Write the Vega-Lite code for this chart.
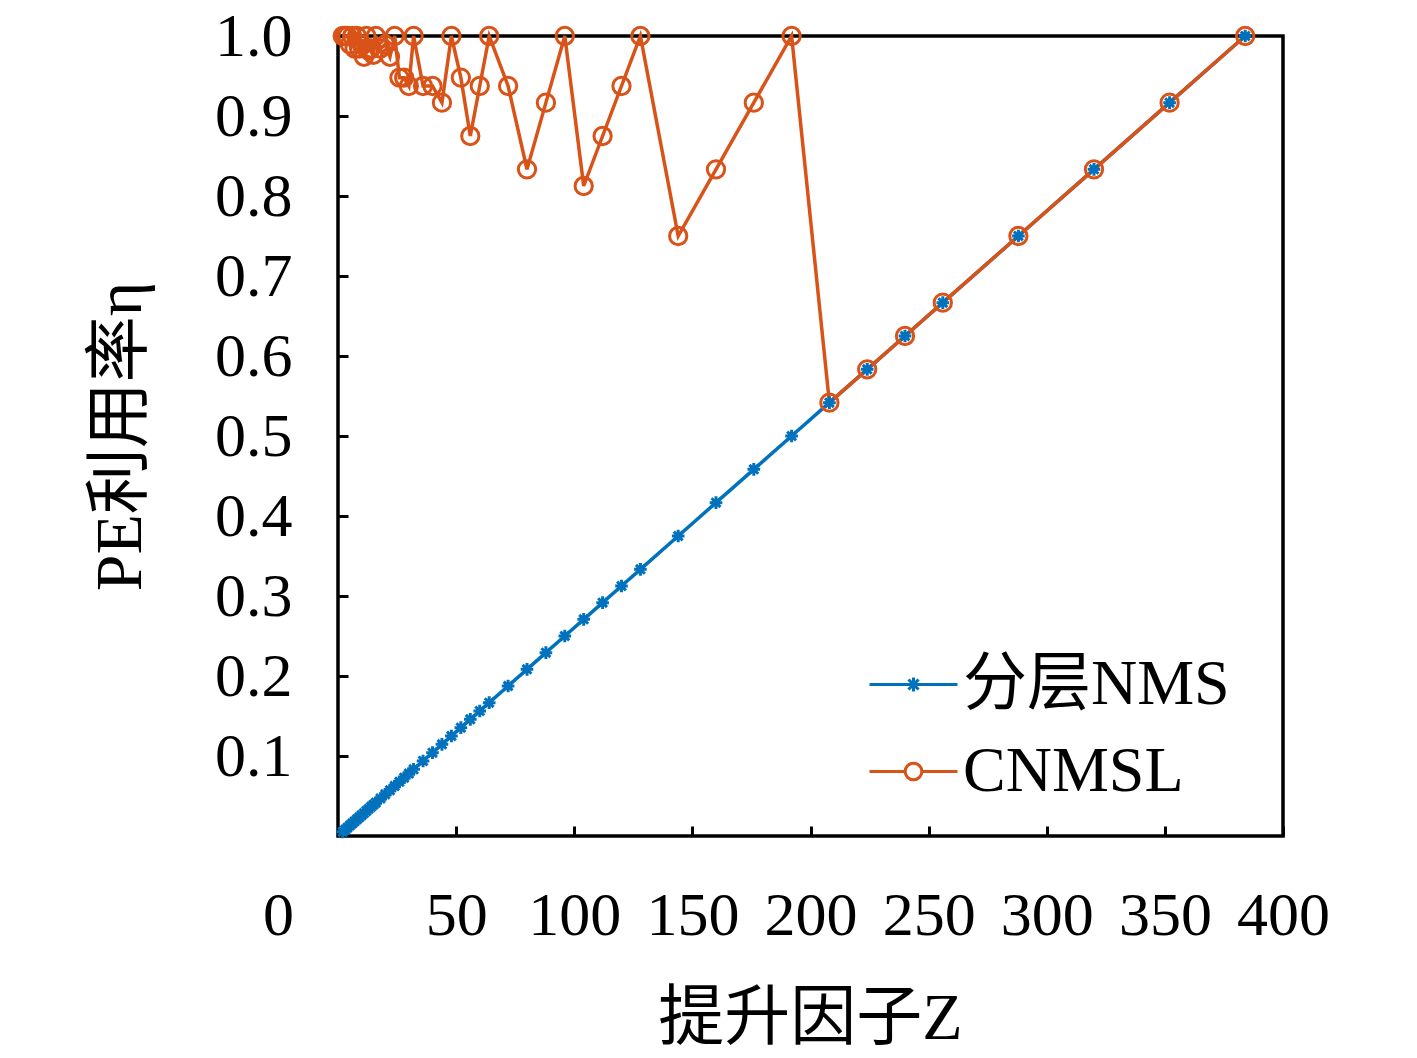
{
  "$schema": "https://vega.github.io/schema/vega-lite/v6.json",
  "autosize": "none",
  "width": 945,
  "height": 800,
  "padding": {"left": 338, "top": 36, "right": 134, "bottom": 222},
  "background": "white",
  "config": {
    "view": {"stroke": "black", "strokeWidth": 3.5},
    "axis": {
      "domain": false,
      "grid": false,
      "labelFont": "Liberation Serif",
      "labelFontSize": 62,
      "labelColor": "black",
      "titleFont": "Liberation Serif, Noto Sans CJK SC",
      "titleFontSize": 66,
      "titleFontWeight": "normal",
      "titleColor": "black",
      "tickColor": "black",
      "tickWidth": 3,
      "tickSize": -10
    },
    "legend": {
      "title": null,
      "orient": "none",
      "legendX": 530,
      "legendY": 603,
      "padding": 0,
      "rowPadding": 9,
      "symbolSize": 7744,
      "symbolStrokeWidth": 3,
      "symbolFillColor": "transparent",
      "labelOffset": 4,
      "labelFont": "Liberation Serif, Noto Sans CJK SC",
      "labelFontSize": 64,
      "labelColor": "black",
      "labelLimit": 400
    }
  },
  "data": {
    "values": [
      {"series": "分层NMS", "Z": 2, "eta": 0.0052},
      {"series": "分层NMS", "Z": 3, "eta": 0.0078},
      {"series": "分层NMS", "Z": 4, "eta": 0.0104},
      {"series": "分层NMS", "Z": 5, "eta": 0.0130},
      {"series": "分层NMS", "Z": 6, "eta": 0.0156},
      {"series": "分层NMS", "Z": 7, "eta": 0.0182},
      {"series": "分层NMS", "Z": 8, "eta": 0.0208},
      {"series": "分层NMS", "Z": 9, "eta": 0.0234},
      {"series": "分层NMS", "Z": 10, "eta": 0.0260},
      {"series": "分层NMS", "Z": 11, "eta": 0.0286},
      {"series": "分层NMS", "Z": 12, "eta": 0.0313},
      {"series": "分层NMS", "Z": 13, "eta": 0.0339},
      {"series": "分层NMS", "Z": 14, "eta": 0.0365},
      {"series": "分层NMS", "Z": 15, "eta": 0.0391},
      {"series": "分层NMS", "Z": 16, "eta": 0.0417},
      {"series": "分层NMS", "Z": 18, "eta": 0.0469},
      {"series": "分层NMS", "Z": 20, "eta": 0.0521},
      {"series": "分层NMS", "Z": 22, "eta": 0.0573},
      {"series": "分层NMS", "Z": 24, "eta": 0.0625},
      {"series": "分层NMS", "Z": 26, "eta": 0.0677},
      {"series": "分层NMS", "Z": 28, "eta": 0.0729},
      {"series": "分层NMS", "Z": 30, "eta": 0.0781},
      {"series": "分层NMS", "Z": 32, "eta": 0.0833},
      {"series": "分层NMS", "Z": 36, "eta": 0.0938},
      {"series": "分层NMS", "Z": 40, "eta": 0.1042},
      {"series": "分层NMS", "Z": 44, "eta": 0.1146},
      {"series": "分层NMS", "Z": 48, "eta": 0.125},
      {"series": "分层NMS", "Z": 52, "eta": 0.1354},
      {"series": "分层NMS", "Z": 56, "eta": 0.1458},
      {"series": "分层NMS", "Z": 60, "eta": 0.1563},
      {"series": "分层NMS", "Z": 64, "eta": 0.1667},
      {"series": "分层NMS", "Z": 72, "eta": 0.1875},
      {"series": "分层NMS", "Z": 80, "eta": 0.2083},
      {"series": "分层NMS", "Z": 88, "eta": 0.2292},
      {"series": "分层NMS", "Z": 96, "eta": 0.25},
      {"series": "分层NMS", "Z": 104, "eta": 0.2708},
      {"series": "分层NMS", "Z": 112, "eta": 0.2917},
      {"series": "分层NMS", "Z": 120, "eta": 0.3125},
      {"series": "分层NMS", "Z": 128, "eta": 0.3333},
      {"series": "分层NMS", "Z": 144, "eta": 0.375},
      {"series": "分层NMS", "Z": 160, "eta": 0.4167},
      {"series": "分层NMS", "Z": 176, "eta": 0.4583},
      {"series": "分层NMS", "Z": 192, "eta": 0.5},
      {"series": "分层NMS", "Z": 208, "eta": 0.5417},
      {"series": "分层NMS", "Z": 224, "eta": 0.5833},
      {"series": "分层NMS", "Z": 240, "eta": 0.625},
      {"series": "分层NMS", "Z": 256, "eta": 0.6667},
      {"series": "分层NMS", "Z": 288, "eta": 0.75},
      {"series": "分层NMS", "Z": 320, "eta": 0.8333},
      {"series": "分层NMS", "Z": 352, "eta": 0.9167},
      {"series": "分层NMS", "Z": 384, "eta": 1.0},
      {"series": "CNMSL", "Z": 2, "eta": 1.0},
      {"series": "CNMSL", "Z": 3, "eta": 1.0},
      {"series": "CNMSL", "Z": 4, "eta": 1.0},
      {"series": "CNMSL", "Z": 5, "eta": 0.9896},
      {"series": "CNMSL", "Z": 6, "eta": 1.0},
      {"series": "CNMSL", "Z": 7, "eta": 0.9844},
      {"series": "CNMSL", "Z": 8, "eta": 1.0},
      {"series": "CNMSL", "Z": 9, "eta": 0.9844},
      {"series": "CNMSL", "Z": 10, "eta": 0.9896},
      {"series": "CNMSL", "Z": 11, "eta": 0.974},
      {"series": "CNMSL", "Z": 12, "eta": 1.0},
      {"series": "CNMSL", "Z": 13, "eta": 0.9818},
      {"series": "CNMSL", "Z": 14, "eta": 0.9844},
      {"series": "CNMSL", "Z": 15, "eta": 0.9766},
      {"series": "CNMSL", "Z": 16, "eta": 1.0},
      {"series": "CNMSL", "Z": 18, "eta": 0.9844},
      {"series": "CNMSL", "Z": 20, "eta": 0.9896},
      {"series": "CNMSL", "Z": 22, "eta": 0.974},
      {"series": "CNMSL", "Z": 24, "eta": 1.0},
      {"series": "CNMSL", "Z": 26, "eta": 0.9479},
      {"series": "CNMSL", "Z": 28, "eta": 0.9479},
      {"series": "CNMSL", "Z": 30, "eta": 0.9375},
      {"series": "CNMSL", "Z": 32, "eta": 1.0},
      {"series": "CNMSL", "Z": 36, "eta": 0.9375},
      {"series": "CNMSL", "Z": 40, "eta": 0.9375},
      {"series": "CNMSL", "Z": 44, "eta": 0.9167},
      {"series": "CNMSL", "Z": 48, "eta": 1.0},
      {"series": "CNMSL", "Z": 52, "eta": 0.9479},
      {"series": "CNMSL", "Z": 56, "eta": 0.875},
      {"series": "CNMSL", "Z": 60, "eta": 0.9375},
      {"series": "CNMSL", "Z": 64, "eta": 1.0},
      {"series": "CNMSL", "Z": 72, "eta": 0.9375},
      {"series": "CNMSL", "Z": 80, "eta": 0.8333},
      {"series": "CNMSL", "Z": 88, "eta": 0.9167},
      {"series": "CNMSL", "Z": 96, "eta": 1.0},
      {"series": "CNMSL", "Z": 104, "eta": 0.8125},
      {"series": "CNMSL", "Z": 112, "eta": 0.875},
      {"series": "CNMSL", "Z": 120, "eta": 0.9375},
      {"series": "CNMSL", "Z": 128, "eta": 1.0},
      {"series": "CNMSL", "Z": 144, "eta": 0.75},
      {"series": "CNMSL", "Z": 160, "eta": 0.8333},
      {"series": "CNMSL", "Z": 176, "eta": 0.9167},
      {"series": "CNMSL", "Z": 192, "eta": 1.0},
      {"series": "CNMSL", "Z": 208, "eta": 0.5417},
      {"series": "CNMSL", "Z": 224, "eta": 0.5833},
      {"series": "CNMSL", "Z": 240, "eta": 0.625},
      {"series": "CNMSL", "Z": 256, "eta": 0.6667},
      {"series": "CNMSL", "Z": 288, "eta": 0.75},
      {"series": "CNMSL", "Z": 320, "eta": 0.8333},
      {"series": "CNMSL", "Z": 352, "eta": 0.9167},
      {"series": "CNMSL", "Z": 384, "eta": 1.0}
    ]
  },
  "encoding": {
    "x": {
      "field": "Z",
      "type": "quantitative",
      "scale": {"domain": [0, 400], "nice": false, "zero": false},
      "axis": {
        "title": "提升因子Z",
        "values": [0, 50, 100, 150, 200, 250, 300, 350, 400],
        "labelPadding": 89,
        "labelBaseline": "middle",
        "labelOffset": {"condition": {"test": "datum.value === 0", "value": -60}, "value": 0},
        "labelFlush": false,
        "labelOverlap": false,
        "titleX": 472,
        "titleY": 182,
        "titleBaseline": "middle",
        "titleAlign": "center"
      }
    },
    "y": {
      "field": "eta",
      "type": "quantitative",
      "scale": {"domain": [0, 1], "nice": false},
      "axis": {
        "title": "PE利用率η",
        "values": [0.1, 0.2, 0.3, 0.4, 0.5, 0.6, 0.7, 0.8, 0.9, 1.0],
        "format": ".1f",
        "labelPadding": 56,
        "labelFlush": false,
        "labelOverlap": false,
        "titleX": -218,
        "titleY": 400,
        "titleAngle": -90,
        "titleBaseline": "middle",
        "titleAlign": "center"
      }
    },
    "color": {
      "field": "series",
      "type": "nominal",
      "sort": ["分层NMS", "CNMSL"],
      "scale": {"domain": ["分层NMS", "CNMSL"], "range": ["#0072BD", "#D95319"]}
    }
  },
  "layer": [
    {
      "mark": {"type": "line", "strokeWidth": 3.5, "clip": false},
      "encoding": {"detail": {"field": "series"}}
    },
    {
      "transform": [{"filter": "datum.series === '分层NMS'"}],
      "mark": {
        "type": "point",
        "filled": false,
        "shape": "M-1,0L1,0M0,-1L0,1M-0.7,-0.7L0.7,0.7M-0.7,0.7L0.7,-0.7",
        "size": 160,
        "strokeWidth": 3,
        "opacity": 1,
        "clip": false
      }
    },
    {
      "transform": [{"filter": "datum.series === 'CNMSL'"}],
      "mark": {
        "type": "point",
        "filled": false,
        "shape": "circle",
        "size": 300,
        "strokeWidth": 3,
        "opacity": 1,
        "clip": false
      }
    },
    {
      "transform": [{"filter": "false"}],
      "mark": {"type": "point", "filled": false, "strokeWidth": 3, "opacity": 1},
      "encoding": {
        "shape": {
          "field": "series",
          "type": "nominal",
          "sort": ["分层NMS", "CNMSL"],
          "scale": {
            "domain": ["分层NMS", "CNMSL"],
            "range": [
              "M-1,0L1,0M0,-0.16L0,0.16M-0.16,0L0.16,0M-0.115,-0.115L0.115,0.115M-0.115,0.115L0.115,-0.115",
              "M-1,0L-0.19,0M0.19,0L1,0M0.19,0A0.19,0.19 0 1 1 -0.19,0A0.19,0.19 0 1 1 0.19,0"
            ]
          }
        }
      }
    }
  ]
}
